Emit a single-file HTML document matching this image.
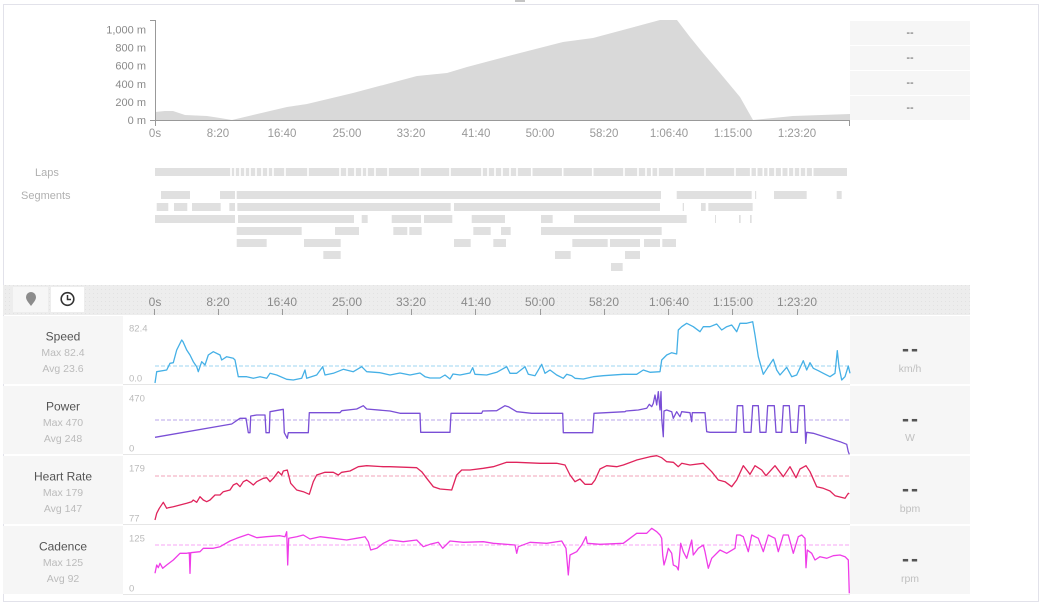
<!DOCTYPE html>
<html><head><meta charset="utf-8"><style>
html,body{margin:0;padding:0;background:#fff;}
body{width:1043px;height:608px;overflow:hidden;font-family:"Liberation Sans",sans-serif;}
svg text{font-family:"Liberation Sans",sans-serif;}
</style></head><body>
<svg width="1043" height="608" viewBox="0 0 1043 608" xmlns="http://www.w3.org/2000/svg">
<defs>
<pattern id="dots" width="4" height="4" patternUnits="userSpaceOnUse"><rect width="4" height="4" fill="#ededed"/><rect x="1" y="1" width="1" height="1" fill="#e2e2e2"/></pattern>
</defs>
<rect x="0" y="0" width="1043" height="608" fill="#fff"/>
<rect x="3.5" y="4.5" width="1035" height="597" fill="#fff" stroke="#e2e2ea" stroke-width="1"/>
<line x1="515" y1="1" x2="525" y2="1" stroke="#888" stroke-width="1"/>

<!-- Elevation -->
<polygon fill="#d9d9d9" points="155,120 155,112 165,111 173,111 185,115 207,116 220,118 232,120 253,115 287,107 307,104 353,93 417,76 447,73 467,67 520,53 563,42 593,38 660,20 677,20 690,37 703,53 720,73 730,85 740,97 753,120 793,116 850,114 850,120"/>
<line x1="155.5" y1="20" x2="155.5" y2="126" stroke="#999" stroke-width="1"/>
<line x1="150" y1="20.5" x2="155.5" y2="20.5" stroke="#999" stroke-width="1"/>
<line x1="150" y1="120.5" x2="850" y2="120.5" stroke="#999" stroke-width="1"/>
<line x1="849.5" y1="120" x2="849.5" y2="126" stroke="#999" stroke-width="1"/>
<g font-size="11" fill="#8a8a8a" text-anchor="end">
<text x="146" y="33.5">1,000 m</text>
<text x="146" y="51.5">800 m</text>
<text x="146" y="69.5">600 m</text>
<text x="146" y="88">400 m</text>
<text x="146" y="106">200 m</text>
<text x="146" y="124">0 m</text>
</g>
<g font-size="11.5" fill="#999" text-anchor="middle">
<text x="155" y="137">0s</text>
<text x="218" y="137">8:20</text>
<text x="282" y="137">16:40</text>
<text x="347" y="137">25:00</text>
<text x="411" y="137">33:20</text>
<text x="476" y="137">41:40</text>
<text x="540" y="137">50:00</text>
<text x="604" y="137">58:20</text>
<text x="669" y="137">1:06:40</text>
<text x="733" y="137">1:15:00</text>
<text x="797" y="137">1:23:20</text>
</g>
<g fill="#f6f6f6">
<rect x="850" y="21" width="120" height="24"/>
<rect x="850" y="46" width="120" height="24"/>
<rect x="850" y="71" width="120" height="24"/>
<rect x="850" y="96" width="120" height="24"/>
</g>
<g font-size="11" fill="#555" text-anchor="middle">
<text x="910" y="36">--</text><text x="910" y="61">--</text><text x="910" y="86">--</text><text x="910" y="111">--</text>
</g>

<!-- Laps / Segments -->
<g font-size="11" fill="#b0b0b0">
<text x="35" y="176">Laps</text>
<text x="21" y="199">Segments</text>
</g>
<rect x="155" y="168" width="692" height="8" fill="#e0e0e0"/>
<g stroke="#fff" stroke-width="1.6">
<line x1="231" y1="167" x2="231" y2="177"/><line x1="235" y1="167" x2="235" y2="177"/><line x1="240" y1="167" x2="240" y2="177"/><line x1="245" y1="167" x2="245" y2="177"/><line x1="250" y1="167" x2="250" y2="177"/><line x1="256" y1="167" x2="256" y2="177"/><line x1="262" y1="167" x2="262" y2="177"/><line x1="268" y1="167" x2="268" y2="177"/><line x1="273" y1="167" x2="273" y2="177"/><line x1="285" y1="167" x2="285" y2="177"/><line x1="308" y1="167" x2="308" y2="177"/><line x1="340" y1="167" x2="340" y2="177"/><line x1="347" y1="167" x2="347" y2="177"/><line x1="355" y1="167" x2="355" y2="177"/><line x1="362" y1="167" x2="362" y2="177"/><line x1="367" y1="167" x2="367" y2="177"/><line x1="375" y1="167" x2="375" y2="177"/><line x1="388" y1="167" x2="388" y2="177"/><line x1="420" y1="167" x2="420" y2="177"/><line x1="450" y1="167" x2="450" y2="177"/><line x1="482" y1="167" x2="482" y2="177"/><line x1="488" y1="167" x2="488" y2="177"/><line x1="495" y1="167" x2="495" y2="177"/><line x1="502" y1="167" x2="502" y2="177"/><line x1="510" y1="167" x2="510" y2="177"/><line x1="517" y1="167" x2="517" y2="177"/><line x1="531.7" y1="167" x2="531.7" y2="177"/><line x1="562.7" y1="167" x2="562.7" y2="177"/><line x1="592.7" y1="167" x2="592.7" y2="177"/><line x1="624" y1="167" x2="624" y2="177"/><line x1="638" y1="167" x2="638" y2="177"/><line x1="646" y1="167" x2="646" y2="177"/><line x1="651.7" y1="167" x2="651.7" y2="177"/><line x1="658" y1="167" x2="658" y2="177"/><line x1="674" y1="167" x2="674" y2="177"/><line x1="705" y1="167" x2="705" y2="177"/><line x1="735" y1="167" x2="735" y2="177"/><line x1="750.7" y1="167" x2="750.7" y2="177"/><line x1="756.7" y1="167" x2="756.7" y2="177"/><line x1="763.3" y1="167" x2="763.3" y2="177"/><line x1="768.3" y1="167" x2="768.3" y2="177"/><line x1="775" y1="167" x2="775" y2="177"/><line x1="781.7" y1="167" x2="781.7" y2="177"/><line x1="788.3" y1="167" x2="788.3" y2="177"/><line x1="794" y1="167" x2="794" y2="177"/><line x1="800" y1="167" x2="800" y2="177"/><line x1="806" y1="167" x2="806" y2="177"/><line x1="812.7" y1="167" x2="812.7" y2="177"/>
</g>
<g fill="#e0e0e0">
<rect x="161" y="191" width="29" height="8"/><rect x="220" y="191" width="15" height="8"/><rect x="236.7" y="191" width="424.3" height="8"/><rect x="676.7" y="191" width="75" height="8"/><rect x="755" y="191" width="1.2" height="8"/><rect x="774" y="191" width="32.7" height="8"/><rect x="836.7" y="191" width="5" height="8"/>
<rect x="156.7" y="203" width="11.6" height="8"/><rect x="174" y="203" width="13.3" height="8"/><rect x="192" y="203" width="28.7" height="8"/><rect x="229.3" y="203" width="5.7" height="8"/><rect x="237.3" y="203" width="213.4" height="8"/><rect x="454" y="203" width="206" height="8"/><rect x="682.7" y="203" width="1.3" height="8"/><rect x="701" y="203" width="4.7" height="8"/><rect x="708.3" y="203" width="44.4" height="8"/>
<rect x="155" y="215" width="80" height="8"/><rect x="238" y="215" width="116" height="8"/><rect x="361.7" y="215" width="6" height="8"/><rect x="391.7" y="215" width="29.3" height="8"/><rect x="424" y="215" width="28.3" height="8"/><rect x="471.7" y="215" width="33.3" height="8"/><rect x="541" y="215" width="11.7" height="8"/><rect x="574" y="215" width="112.7" height="8"/><rect x="715" y="215" width="1" height="8"/><rect x="739" y="215" width="1.7" height="8"/><rect x="750" y="215" width="1.7" height="8"/>
<rect x="236.7" y="227" width="65" height="8"/><rect x="335" y="227" width="24" height="8"/><rect x="393.3" y="227" width="14" height="8"/><rect x="409.3" y="227" width="12.4" height="8"/><rect x="473.3" y="227" width="17.4" height="8"/><rect x="501" y="227" width="9.7" height="8"/><rect x="541" y="227" width="120.7" height="8"/>
<rect x="236.7" y="239" width="30" height="8"/><rect x="304" y="239" width="36.7" height="8"/><rect x="454" y="239" width="16.7" height="8"/><rect x="493.3" y="239" width="12.7" height="8"/><rect x="572.3" y="239" width="35.4" height="8"/><rect x="610" y="239" width="30" height="8"/><rect x="644" y="239" width="16" height="8"/><rect x="662.3" y="239" width="13.7" height="8"/>
<rect x="323.3" y="251" width="17.4" height="8"/><rect x="555" y="251" width="15.7" height="8"/><rect x="625" y="251" width="15" height="8"/>
<rect x="611" y="263" width="11.7" height="8"/>
</g>

<!-- Toolbar band -->
<rect x="3" y="285" width="967" height="30" fill="url(#dots)"/>
<rect x="13" y="287" width="35" height="25" fill="#f6f6f6"/>
<rect x="51" y="287" width="33" height="25" fill="#ffffff"/>
<path d="M31,306 C27.5,301.5 26,299.5 26,297 A5,5 0 1 1 36,297 C36,299.5 34.5,301.5 31,306 Z" fill="#8c8c8c"/>
<circle cx="67.5" cy="299" r="6.3" fill="none" stroke="#333" stroke-width="1.6"/>
<polyline points="67.5,295 67.5,299.5 71,299.5" fill="none" stroke="#333" stroke-width="1.5"/>
<g font-size="12" fill="#8a8a8a" text-anchor="middle">
<text x="155" y="306">0s</text>
<text x="218" y="306">8:20</text>
<text x="282" y="306">16:40</text>
<text x="347" y="306">25:00</text>
<text x="411" y="306">33:20</text>
<text x="476" y="306">41:40</text>
<text x="540" y="306">50:00</text>
<text x="604" y="306">58:20</text>
<text x="669" y="306">1:06:40</text>
<text x="733" y="306">1:15:00</text>
<text x="797" y="306">1:23:20</text>
</g>
<g stroke="#999" stroke-width="1">
<line x1="154.5" y1="309" x2="154.5" y2="315"/><line x1="218.5" y1="309" x2="218.5" y2="315"/><line x1="282.5" y1="309" x2="282.5" y2="315"/><line x1="347.5" y1="309" x2="347.5" y2="315"/><line x1="411.5" y1="309" x2="411.5" y2="315"/><line x1="475.5" y1="309" x2="475.5" y2="315"/><line x1="540.5" y1="309" x2="540.5" y2="315"/><line x1="604.5" y1="309" x2="604.5" y2="315"/><line x1="668.5" y1="309" x2="668.5" y2="315"/><line x1="732.5" y1="309" x2="732.5" y2="315"/><line x1="797.5" y1="309" x2="797.5" y2="315"/>
</g>

<!-- Panels backgrounds -->
<g fill="#f6f6f6">
<rect x="3" y="316" width="120" height="68"/>
<rect x="3" y="386" width="120" height="68"/>
<rect x="3" y="456" width="120" height="68"/>
<rect x="3" y="526" width="120" height="68"/>
<rect x="850" y="316" width="120" height="68"/>
<rect x="850" y="386" width="120" height="68"/>
<rect x="850" y="456" width="120" height="68"/>
<rect x="850" y="526" width="120" height="68"/>
</g>
<g stroke="#e6e6e6" stroke-width="1">
<line x1="123" y1="384.5" x2="850" y2="384.5"/>
<line x1="123" y1="454.5" x2="850" y2="454.5"/>
<line x1="123" y1="524.5" x2="850" y2="524.5"/>
<line x1="123" y1="594.5" x2="850" y2="594.5"/>
</g>

<!-- Left labels -->
<g text-anchor="middle">
<text x="63" y="340.5" font-size="12" fill="#555">Speed</text>
<text x="63" y="356" font-size="10.5" fill="#bbb">Max 82.4</text>
<text x="63" y="372" font-size="10.5" fill="#bbb">Avg 23.6</text>
<text x="63" y="410.5" font-size="12" fill="#555">Power</text>
<text x="63" y="426" font-size="10.5" fill="#bbb">Max 470</text>
<text x="63" y="442" font-size="10.5" fill="#bbb">Avg 248</text>
<text x="63" y="480.5" font-size="12" fill="#555">Heart Rate</text>
<text x="63" y="496" font-size="10.5" fill="#bbb">Max 179</text>
<text x="63" y="512" font-size="10.5" fill="#bbb">Avg 147</text>
<text x="63" y="550.5" font-size="12" fill="#555">Cadence</text>
<text x="63" y="566" font-size="10.5" fill="#bbb">Max 125</text>
<text x="63" y="582" font-size="10.5" fill="#bbb">Avg 92</text>
</g>
<!-- Right values -->
<g text-anchor="middle">
<text x="911" y="356" font-size="21" font-weight="bold" fill="#555" letter-spacing="2">--</text>
<text x="910" y="372" font-size="10.5" fill="#c0c0c0">km/h</text>
<text x="911" y="426" font-size="21" font-weight="bold" fill="#555" letter-spacing="2">--</text>
<text x="910" y="441" font-size="10.5" fill="#c0c0c0">W</text>
<text x="911" y="496" font-size="21" font-weight="bold" fill="#555" letter-spacing="2">--</text>
<text x="910" y="512" font-size="10.5" fill="#c0c0c0">bpm</text>
<text x="911" y="566" font-size="21" font-weight="bold" fill="#555" letter-spacing="2">--</text>
<text x="910" y="582" font-size="10.5" fill="#c0c0c0">rpm</text>
</g>
<!-- Axis min/max -->
<g font-size="9.5" fill="#bbb">
<text x="129" y="331.5">82.4</text><text x="129" y="381.5">0.0</text>
<text x="129" y="401.5">470</text><text x="129" y="451.5">0</text>
<text x="129" y="471.5">179</text><text x="129" y="521.5">77</text>
<text x="129" y="541.5">125</text><text x="129" y="591.5">0</text>
</g>

<!-- avg dashed -->
<g stroke-width="1" stroke-dasharray="4,2">
<line x1="155" y1="366" x2="850" y2="366" stroke="#9ed6f2"/>
<line x1="155" y1="420" x2="850" y2="420" stroke="#b9a6ea"/>
<line x1="155" y1="476" x2="850" y2="476" stroke="#f2a3b9"/>
<line x1="155" y1="545" x2="850" y2="545" stroke="#f7a6f4"/>
</g>

<g fill="none" stroke-width="1.3" stroke-linejoin="round">
<polyline stroke="#45b0e6" points="155,383 156.7,371.7 166.7,370 170,363.3 173.3,362.7 176.7,350 181.7,340 183,341.7 186.7,350 190,355 193.3,361.7 196.7,366.7 198.3,371.7 201.7,361.7 205,365 208.3,355 213.3,351.7 220,355 221.7,360 226.7,356.7 233.3,358.3 235,360 238.3,376.7 246.7,376.7 253.3,378.3 260,376.7 266.7,378.3 270,373.3 276.7,375 286.7,379.3 293.3,380 301.7,378.3 305,370 306.7,378.3 316.7,375 322.7,366.7 325,375 333.3,373.3 343.3,369.3 353.3,371.7 361.7,366.7 366.7,371.7 380,372.7 390,375 400,373 410,375 420,373 425,376.7 430,378 440,378 445,375 450,379 453,374 460,375 470,373 472.7,367.7 475,374.3 486.7,375 496.7,372.3 506.7,366.7 510,373.3 516.7,373.3 525,366.7 528.3,374.3 535,375.7 541.7,364.3 545,373.3 550,370 556.7,375 563.3,378.3 566.7,374.3 571.7,375.7 575,378.3 583.3,379 593.3,376.7 603.3,375.7 623.3,374.3 636.7,374.3 643.3,370 650,372.3 660,371.7 661.7,360 666.7,355 671.7,352.7 676.7,354 678.3,330 681.7,326.7 686.7,323.3 693.3,326.7 700,331.7 703.3,326.7 710,326.7 716.7,324 721.7,330 726.7,326.7 731.7,325 736.7,331.7 740,323.3 746.7,323.3 752.7,321.7 755,335 758.3,356.7 763.3,374.3 768.3,366.7 773.3,359.3 776.7,370 780,375 786.7,367.3 791.7,376.7 796.7,375 803.3,360.7 806.7,370 810,362.7 813.3,368.3 818.3,370.7 823.3,373.3 830,376.7 835,373.3 837.3,350.7 839,366.7 841.7,380 845,376.7 848.3,366 850,373.3"/>
<polyline stroke="#7a4fd6" points="155,437.3 231.7,424 240,418.3 246,418.3 248.3,432.7 250,432.7 250.7,416 256.7,415 265,415 266,432.7 269.3,432.7 270,411.7 283.3,409.3 284.3,432.7 287.3,438.3 288.3,432.7 308.3,432.7 309.3,412.7 340,412.7 341.7,410.7 356.7,409 363.3,405.7 366.7,409 390,411 400,413.3 420,413.3 420.7,432.3 450,432.3 451,413.3 481.7,413.3 482.7,411 496.7,410.7 505,405.7 508.3,406.7 516.7,411.7 531.7,413.3 562.7,413.3 563.3,432.7 592.7,432.7 594,413.3 625,411.7 626,411 638.3,410 646.7,408.3 649.3,404.3 651.7,406.7 653.3,403.3 655,395 656.7,405 658.3,391.7 660,410 661,391.7 661.7,418.3 663.3,436.7 664,411 666.7,410 671.7,411.7 673.3,418.3 676.7,411.7 680,416.7 681.7,411.7 690,412.7 691.7,421.7 692.3,412.7 705,412.7 706.7,431.7 710,432.3 736,432.3 737.3,405.7 742.7,405.7 744,432.3 751,432.3 752.7,405.7 758.3,405.7 760,432.3 766,432.3 767.7,405.7 774.3,405.7 776,432.3 781.7,432.3 783.3,405.7 789.3,405.7 791,432.3 797.3,432.3 799,405.7 804.3,405.7 805.7,443.3 806.7,432.3 813.3,433.3 840,441.7 846.7,444.3 848.3,451.7 849.3,454.3"/>
<polyline stroke="#e0245c" points="155,520 156.7,513.3 159.3,508.3 163.3,502.3 166.7,508.3 168.3,507.7 173.3,506.7 180,505 186.7,503.3 191.7,501.7 193.3,500 196.7,502.3 200,496.7 203.3,500 206.7,501.7 210,500 215,495 220,495 223.3,491.7 230,490 233.3,485 236.7,483.3 240,486.7 243.3,481.7 246.7,480 250,482.3 253.3,485 256.7,481.7 263.3,478.3 266.7,477.7 270,481.7 273.3,478.3 278.3,471.7 281.7,475 283.3,471 287.3,470 290.7,483.3 296.7,490 303.3,491.7 309.3,494.3 313.3,481.7 316.7,475 325,472.3 333.3,472.3 338.3,475 341.7,472.3 350,471 358.3,466.7 366.7,465.7 383.3,466.7 390,466.7 416.7,467.7 421.7,471.7 426.7,478.3 433.3,486.7 440,489 451.7,490 456.7,475 461.7,470 470,470 483.3,468.3 493.3,466.7 506.7,462.3 516.7,462.3 540,463.3 556.7,463.3 565,465 570,475 575,481.7 580,479 585,484.3 591.7,484.3 595,480 600,469 606.7,465.7 616.7,466.7 623.3,465 636.7,460 650,456.7 656.7,455.7 661.7,457.7 666.7,461.7 673.3,462.3 678.3,466.7 681.7,463.3 690,465 703.3,463.3 706.7,466.7 711.7,471.7 718.3,480 725,481.7 731.7,486.7 736.7,480 743.3,465.7 746.7,470 750,474.3 755,465.7 761.7,470 766,475.7 775,465.7 783.3,476.7 790,466.7 796,477.7 800,469 806,465.7 810,471.7 816.7,486.7 823.3,488.3 830,491 835,495.7 845,498.3 848.3,493.3 849.3,493.7"/>
<polyline stroke="#ef3ce8" points="155,573.3 156.7,565 158.3,567.7 160,563.3 162.7,568.3 166.7,565 173.3,560 180,553.3 186.7,553.3 189.3,552.7 190,573.3 190.7,552.7 200,551.7 203.3,548.3 213.3,548.3 220,546.7 230,541 236.7,538.3 248.3,534.3 256.7,537.7 266.7,536.7 280,535.7 285,536.7 286.7,531.7 287.7,565 288.7,538.3 296.7,536.7 303.3,535 310,539 320,536.7 333.3,538.3 346.7,540 360,537.7 365,536.7 368.3,541.7 370.7,550 376.7,548.3 383.3,543.3 390,540 403.3,541.7 416.7,540 423.3,546.7 430,544.3 438.3,542.3 442.7,548.3 450,541 463.3,542.3 483.3,541.7 493.3,543.3 515,545 516.7,553.3 518.3,546.7 530,542.3 546.7,543.3 561.7,541 566,548.3 568.3,575 570,555 576.7,551.7 581.7,545 586,536.7 587.3,543.3 600,544.3 623.3,543.3 630,538.3 636.7,533.3 646.7,533.3 651.7,528.3 656.7,531.7 660,535 661.7,538.3 662.7,555 664,565 666,558.3 668.3,548.3 671.7,553.3 673.3,565 676.7,566.7 678.3,570 680.7,543.3 683.3,551.7 686.7,558.3 691.7,540 693.3,555 698.3,548.3 703.3,545 705,551.7 708.3,568.3 711.7,558.3 720,550 726.7,553.3 735,548.3 736.7,535 740,535 743.3,536.7 748.3,551.7 751.7,535 755,536.7 758.3,538.3 763.3,551.7 768.3,535 771.7,536.7 775,538.3 778.3,551.7 783.3,535 788.3,535 793.3,553.3 798.3,536.7 801.7,535 805,538.3 806,567.7 807.3,550 811.7,553.3 815,560 820,556.7 826.7,558.3 833.3,555.7 840,555 845,556.7 848.3,560 849.3,593.3"/>
</g>
</svg>
</body></html>
